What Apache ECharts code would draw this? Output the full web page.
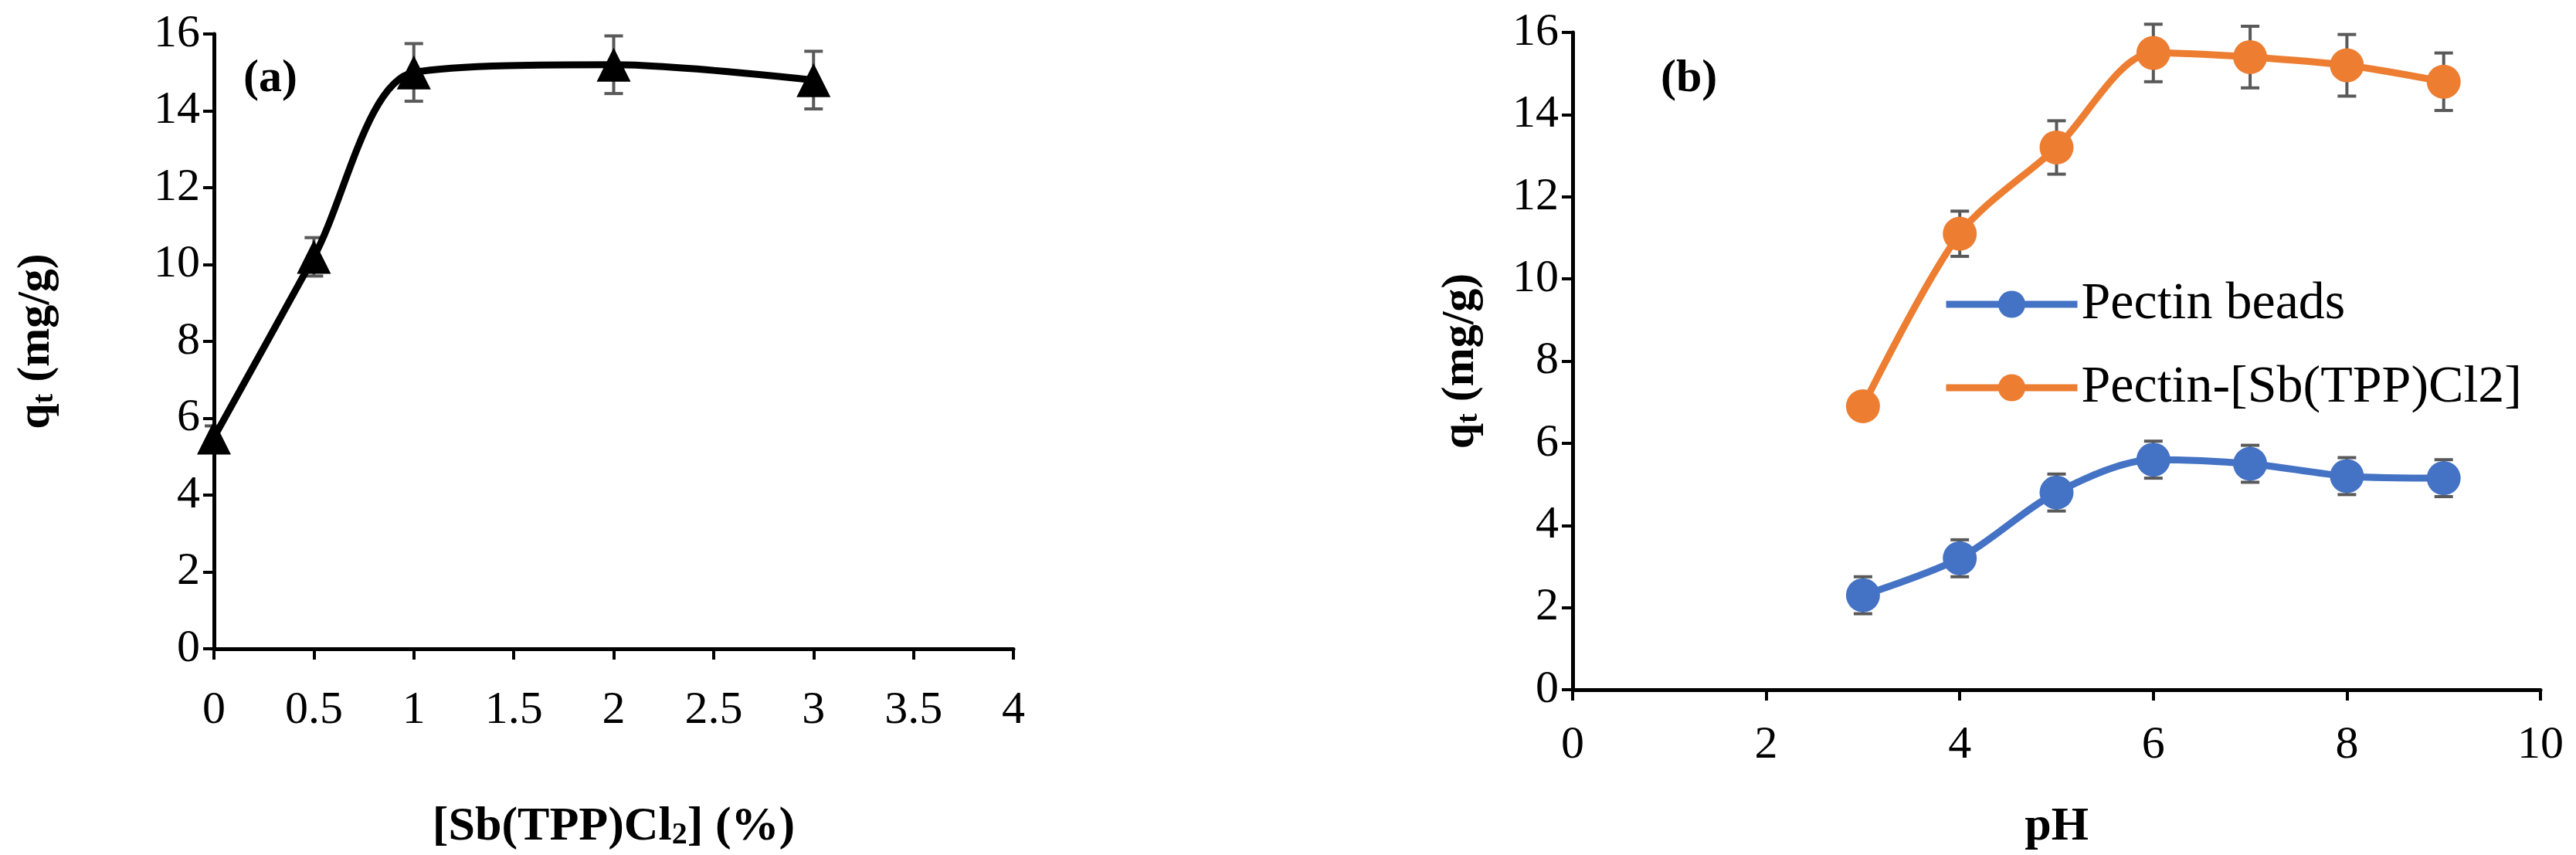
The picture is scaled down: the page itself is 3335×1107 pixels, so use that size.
<!DOCTYPE html><html><head><meta charset="utf-8"><script src="https://cdn.jsdelivr.net/npm/echarts@6/dist/echarts.min.js"></script>
<style>html,body{margin:0;background:#fff}#c{width:3335px;height:1107px}</style></head><body><div id="c"></div><script>
const aX=[0,0.5,1,2,3];
const aY=[5.5,10.2,15.0,15.2,14.8];
const aErr=[0.3,0.5,0.75,0.75,0.75];
const pH=[3,4,5,6,7,8,9];
const beads=[2.3,3.2,4.8,5.6,5.5,5.2,5.15];
const beadsErr=[0.45,0.45,0.45,0.45,0.45,0.45,0.45];
const sb=[6.9,11.1,13.2,15.5,15.4,15.2,14.8];
const sbErr=[0.3,0.55,0.65,0.7,0.75,0.75,0.7];
const F='"Liberation Serif",serif';
function errSeries(xs,ys,es,xi,yi,z){return {type:'custom',xAxisIndex:xi,yAxisIndex:yi,z:z,silent:true,
 data:xs.map((x,i)=>[x,ys[i]-es[i],ys[i]+es[i]]),
 renderItem:(p,api)=>{const lo=api.coord([api.value(0),api.value(1)]),hi=api.coord([api.value(0),api.value(2)]);const w=12;
  const st={stroke:'#595959',lineWidth:4};
  return {type:'group',children:[{type:'line',shape:{x1:lo[0],y1:lo[1],x2:hi[0],y2:hi[1]},style:st},
  {type:'line',shape:{x1:lo[0]-w,y1:lo[1],x2:lo[0]+w,y2:lo[1]},style:st},
  {type:'line',shape:{x1:hi[0]-w,y1:hi[1],x2:hi[0]+w,y2:hi[1]},style:st}]};}};}
const axL={lineStyle:{color:'#000',width:5}};
const axisCommon={axisLine:axL,axisTick:{show:true,length:14,lineStyle:{color:'#000',width:4},inside:false},splitLine:{show:false},
 axisLabel:{fontFamily:F,fontSize:60,color:'#000',margin:18}};
const yName={nameLocation:'middle',nameRotate:90,name:'{b|q}{s|t}{b| (mg/g)}',nameTextStyle:{rich:{b:{fontFamily:F,fontSize:60,fontWeight:'bold',color:'#000'},s:{fontFamily:F,fontSize:38,fontWeight:'bold',color:'#000',verticalAlign:'bottom'}}}};
const c=echarts.init(document.getElementById('c'));
c.setOption({animation:false,
grid:[{left:277,right:3335-1312,top:44,bottom:1107-853},{left:2036,right:3335-3289,top:42,bottom:1107-895}],
xAxis:[Object.assign({},axisCommon,{gridIndex:0,type:'value',min:0,max:4,interval:0.5,axisLabel:Object.assign({},axisCommon.axisLabel,{margin:50}),
  name:'{b|[Sb(TPP)Cl}{s|2}{b|] (%)}',nameLocation:'middle',nameGap:200,nameTextStyle:{rich:{b:{fontFamily:F,fontSize:62,fontWeight:'bold',color:'#000'},s:{fontFamily:F,fontSize:40,fontWeight:'bold',color:'#000',verticalAlign:'bottom'}}}}),
 Object.assign({},axisCommon,{gridIndex:1,type:'value',min:0,max:10,interval:2,axisLabel:Object.assign({},axisCommon.axisLabel,{margin:42}),
  name:'pH',nameLocation:'middle',nameGap:147,nameTextStyle:{fontFamily:F,fontSize:62,fontWeight:'bold',color:'#000'}})],
yAxis:[Object.assign({},axisCommon,yName,{gridIndex:0,type:'value',min:0,max:16,interval:2,nameGap:200}),
 Object.assign({},axisCommon,yName,{gridIndex:1,type:'value',min:0,max:16,interval:2,nameGap:115})],
legend:{orient:'vertical',left:2510,top:355,itemGap:40,itemWidth:170,itemHeight:44,lineStyle:{width:9},textStyle:{fontFamily:F,fontSize:68,color:'#000'},data:['Pectin beads','Pectin-[Sb(TPP)Cl2]']},
graphic:[{type:'text',left:315,top:72,style:{text:'(a)',font:'bold 60px "Liberation Serif"',fill:'#000'}},
 {type:'text',left:2150,top:72,style:{text:'(b)',font:'bold 60px "Liberation Serif"',fill:'#000'}}],
series:[errSeries(aX,aY,aErr,0,0,1),
 {type:'line',xAxisIndex:0,yAxisIndex:0,data:aX.map((x,i)=>[x,aY[i]]),smooth:0.3,symbol:'triangle',symbolSize:44,lineStyle:{color:'#000',width:9},itemStyle:{color:'#000'},z:3},
 errSeries(pH,beads,beadsErr,1,1,1),errSeries(pH,sb,sbErr,1,1,1),
 {name:'Pectin beads',type:'line',xAxisIndex:1,yAxisIndex:1,data:pH.map((x,i)=>[x,beads[i]]),smooth:0.3,symbol:'circle',symbolSize:44,lineStyle:{color:'#4472C4',width:9},itemStyle:{color:'#4472C4'},z:3},
 {name:'Pectin-[Sb(TPP)Cl2]',type:'line',xAxisIndex:1,yAxisIndex:1,data:pH.map((x,i)=>[x,sb[i]]),smooth:0.3,symbol:'circle',symbolSize:44,lineStyle:{color:'#ED7D31',width:9},itemStyle:{color:'#ED7D31'},z:3}]});
</script></body></html>
